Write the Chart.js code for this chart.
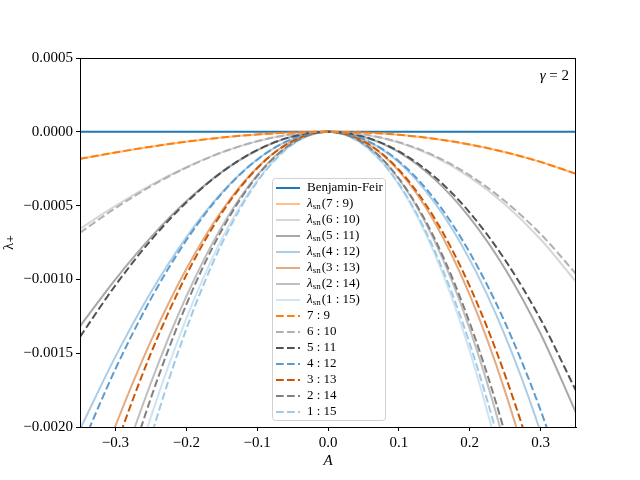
<!DOCTYPE html>
<html>
<head>
<meta charset="utf-8">
<script src="https://cdn.jsdelivr.net/npm/chart.js@4.4.1/dist/chart.umd.min.js"></script>
<style>
html, body { margin: 0; padding: 0; background: #fff; }
#wrap { width: 640px; height: 480px; }
</style>
</head>
<body>
<div id="wrap"><canvas id="chart"></canvas></div>
<script>
// amplitude A (x axis)
const amplitudes = [-0.35, -0.30, -0.25, -0.20, -0.15, -0.10, -0.05, 0, 0.05, 0.10, 0.15, 0.20, 0.25, 0.30, 0.35];
const xTicks = [-0.3, -0.2, -0.1, 0, 0.1, 0.2, 0.3];
const yTicks = [-0.002, -0.0015, -0.001, -0.0005, 0, 0.0005];

// Benjamin-Feir growth rate
const benjaminFeir = [0, 0, 0, 0, 0, 0, 0, 0, 0, 0, 0, 0, 0, 0, 0];

// lambda_sn(m : n), solid lines
const lambdaSn79  = [-0.000183, -0.000140, -0.000101, -0.0000668, -0.0000390, -0.0000179, -0.0000046, 0, -0.0000049, -0.0000203, -0.0000470, -0.0000858, -0.000138, -0.000204, -0.000285];
const lambdaSn610 = [-0.000657, -0.000502, -0.000361, -0.000240, -0.000139, -0.0000641, -0.0000165, 0, -0.0000176, -0.0000725, -0.000168, -0.000307, -0.000492, -0.000728, -0.001016];
const lambdaSn511 = [-0.001318, -0.000999, -0.000715, -0.000471, -0.000273, -0.000125, -0.0000320, 0, -0.0000337, -0.000138, -0.000319, -0.000581, -0.000929, -0.001368, -0.001904];
const lambdaSn412 = [-0.002015, -0.001523, -0.001087, -0.000715, -0.000413, -0.000188, -0.0000482, 0, -0.0000506, -0.000207, -0.000477, -0.000866, -0.001383, -0.002034, -0.002826];
const lambdaSn313 = [-0.002646, -0.001993, -0.001418, -0.000930, -0.000535, -0.000243, -0.0000622, 0, -0.0000649, -0.000265, -0.000609, -0.001105, -0.001760, -0.002584, -0.003584];
const lambdaSn214 = [-0.003168, -0.002389, -0.001702, -0.001116, -0.000643, -0.000293, -0.0000749, 0, -0.0000783, -0.000320, -0.000736, -0.001335, -0.002129, -0.003127, -0.004340];
const lambdaSn115 = [-0.003618, -0.002721, -0.001933, -0.001265, -0.000727, -0.000330, -0.0000842, 0, -0.0000877, -0.000358, -0.000820, -0.001486, -0.002365, -0.003468, -0.004806];

// m : n, dashed lines
const ratio79  = [-0.000183, -0.000140, -0.000101, -0.0000668, -0.0000390, -0.0000179, -0.0000046, 0, -0.0000049, -0.0000203, -0.0000470, -0.0000858, -0.000138, -0.000204, -0.000285];
const ratio610 = [-0.000684, -0.000517, -0.000369, -0.000243, -0.000140, -0.0000640, -0.0000164, 0, -0.0000172, -0.0000705, -0.000162, -0.000295, -0.000471, -0.000692, -0.000962];
const ratio511 = [-0.001389, -0.001040, -0.000735, -0.000479, -0.000274, -0.000124, -0.0000316, 0, -0.0000326, -0.000133, -0.000303, -0.000547, -0.000869, -0.001270, -0.001755];
const ratio412 = [-0.002155, -0.001607, -0.001132, -0.000735, -0.000419, -0.000189, -0.0000478, 0, -0.0000492, -0.000199, -0.000454, -0.000818, -0.001294, -0.001886, -0.002599];
const ratio313 = [-0.002886, -0.002142, -0.001502, -0.000971, -0.000551, -0.000247, -0.0000625, 0, -0.0000636, -0.000257, -0.000583, -0.001046, -0.001650, -0.002397, -0.003292];
const ratio214 = [-0.003444, -0.002565, -0.001805, -0.001171, -0.000667, -0.000300, -0.0000761, 0, -0.0000780, -0.000316, -0.000719, -0.001294, -0.002046, -0.002980, -0.004104];
const ratio115 = [-0.003981, -0.002952, -0.002070, -0.001337, -0.000759, -0.000340, -0.0000858, 0, -0.0000874, -0.000353, -0.000800, -0.001435, -0.002262, -0.003284, -0.004508];

const pairLabels = ['7 : 9', '6 : 10', '5 : 11', '4 : 12', '3 : 13', '2 : 14', '1 : 15'];
const pairColors = ['#ff7f0e', '#b0b0b0', '#525252', '#5a9bd0', '#cc5500', '#808080', '#9ecae8'];
const solidSeries = [lambdaSn79, lambdaSn610, lambdaSn511, lambdaSn412, lambdaSn313, lambdaSn214, lambdaSn115];
const dashedSeries = [ratio79, ratio610, ratio511, ratio412, ratio313, ratio214, ratio115];

const SERIF = '"Liberation Serif", "DejaVu Serif", serif';
const DASH = [7.7, 3.3];

function withAlpha(hex, a) {
    const n = parseInt(hex.slice(1), 16);
    return `rgba(${(n >> 16) & 255}, ${(n >> 8) & 255}, ${n & 255}, ${a})`;
}

function toPoints(values) {
    return amplitudes.map((a, i) => ({ x: a, y: values[i] }));
}

function minusSign(v, digits) {
    const s = Math.abs(v).toFixed(digits);
    return (v < -1e-12 ? '\u2212' : '') + s;
}

// build datasets in legend order
const datasets = [{
    label: 'Benjamin-Feir',
    data: toPoints(benjaminFeir),
    borderColor: '#1f77b4',
    order: 3
}];
solidSeries.forEach((s, i) => {
    datasets.push({
        label: 'λsn(' + pairLabels[i] + ')',
        data: toPoints(s),
        borderColor: withAlpha(pairColors[i], 0.5),
        order: 2
    });
});
dashedSeries.forEach((s, i) => {
    datasets.push({
        label: pairLabels[i],
        data: toPoints(s),
        borderColor: pairColors[i],
        borderDash: DASH,
        order: 1
    });
});
datasets.forEach(d => {
    d.borderWidth = 2;
    d.pointRadius = 0;
    d.fill = false;
    d.cubicInterpolationMode = 'monotone';
});

// frame, gamma note and legend
const decorations = {
    id: 'decorations',
    afterDraw(chart) {
        const ctx = chart.ctx;
        const area = chart.chartArea;
        ctx.save();
        ctx.strokeStyle = '#000';
        ctx.lineWidth = 1;
        ctx.strokeRect(area.left + 0.5, area.top + 0.5, area.right - area.left - 1, area.bottom - area.top);

        // gamma = 2
        ctx.fillStyle = '#000';
        ctx.textBaseline = 'middle';
        ctx.textAlign = 'right';
        ctx.font = '15px ' + SERIF;
        ctx.fillText(' = 2', area.right - 7, area.top + 18);
        const w = ctx.measureText(' = 2').width;
        ctx.font = 'italic 15px ' + SERIF;
        ctx.fillText('γ', area.right - 7 - w, area.top + 18);

        // legend box
        const box = { x: 272, y: 178, w: 113, h: 242 };
        ctx.beginPath();
        ctx.roundRect(box.x + 0.5, box.y + 0.5, box.w, box.h, 3);
        ctx.fillStyle = 'rgba(255, 255, 255, 0.85)';
        ctx.fill();
        ctx.strokeStyle = '#d0d0d0';
        ctx.lineWidth = 1;
        ctx.stroke();

        ctx.textAlign = 'left';
        chart.data.datasets.forEach((d, i) => {
            const y = 188 + 16 * i;
            ctx.beginPath();
            ctx.setLineDash(d.borderDash || []);
            ctx.strokeStyle = d.borderColor;
            ctx.lineWidth = 2;
            ctx.moveTo(276, y);
            ctx.lineTo(300, y);
            ctx.stroke();
            ctx.setLineDash([]);

            ctx.fillStyle = '#000';
            let x = 307;
            let text = d.label;
            if (text.startsWith('λsn')) {
                ctx.font = 'italic 13px ' + SERIF;
                ctx.fillText('λ', x, y);
                x += ctx.measureText('λ').width;
                ctx.font = '9px ' + SERIF;
                ctx.fillText('sn', x, y + 3);
                x += ctx.measureText('sn').width + 1;
                text = text.slice(3);
            }
            ctx.font = '13px ' + SERIF;
            ctx.fillText(text, x, y);
        });
        ctx.restore();
    }
};

new Chart(document.getElementById('chart'), {
    type: 'line',
    data: { datasets },
    plugins: [decorations],
    options: {
        responsive: true,
        maintainAspectRatio: false,
        animation: false,
        layout: { padding: { left: 0, right: 64, top: 58, bottom: 10 } },
        plugins: {
            legend: { display: false },
            tooltip: { enabled: false }
        },
        scales: {
            x: {
                type: 'linear',
                min: -0.35,
                max: 0.35,
                afterBuildTicks: s => { s.ticks = xTicks.map(v => ({ value: v })); },
                afterFit: s => { s.height = 43; },
                grid: { drawOnChartArea: false, drawTicks: true, tickLength: 4, color: '#000' },
                border: { display: true, color: '#000', width: 1 },
                ticks: {
                    color: '#000',
                    font: { family: SERIF, size: 15 },
                    padding: 3,
                    maxRotation: 0,
                    callback: v => minusSign(v, 1)
                },
                title: {
                    display: true,
                    text: 'A',
                    color: '#000',
                    font: { family: SERIF, size: 15, style: 'italic' },
                    padding: 0
                }
            },
            y: {
                min: -0.002,
                max: 0.0005,
                afterBuildTicks: s => { s.ticks = yTicks.map(v => ({ value: v })); },
                afterFit: s => { s.width = 80; },
                grid: { drawOnChartArea: false, drawTicks: true, tickLength: 4, color: '#000' },
                border: { display: true, color: '#000', width: 1 },
                ticks: {
                    color: '#000',
                    font: { family: SERIF, size: 15 },
                    padding: 3,
                    callback: v => minusSign(v, 4)
                },
                title: {
                    display: true,
                    text: 'λ₊',
                    color: '#000',
                    font: { family: SERIF, size: 15 },
                    padding: 0
                }
            }
        }
    }
});
</script>
</body>
</html>
